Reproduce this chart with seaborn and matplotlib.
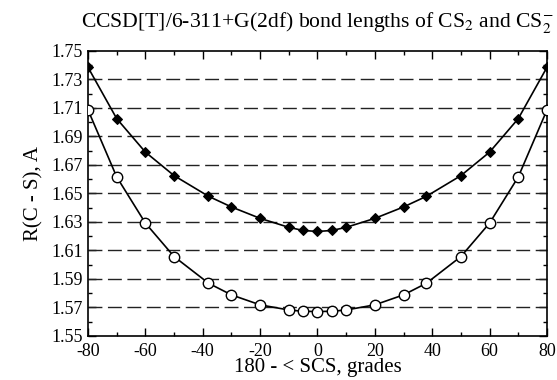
import matplotlib
matplotlib.use("Agg")
import matplotlib.pyplot as plt
import seaborn as sns
import numpy as np
import pandas as pd
from matplotlib.ticker import MultipleLocator

angles = [-80, -70, -60, -50, -38, -30, -20, -10, -5, 0, 5, 10, 20, 30, 38, 50, 60, 70, 80]
r_cs2 = [1.7385, 1.7025, 1.679, 1.6625, 1.648, 1.6405, 1.6325, 1.6262, 1.6240, 1.6233,
         1.6240, 1.6262, 1.6325, 1.6405, 1.648, 1.6625, 1.679, 1.7025, 1.7385]
r_cs2_anion = [1.7086, 1.6616, 1.6292, 1.6057, 1.587, 1.5788, 1.5718, 1.5682, 1.5673, 1.5671,
               1.5673, 1.5682, 1.5718, 1.5788, 1.587, 1.6057, 1.6292, 1.6616, 1.7086]
y_ticks = [1.55, 1.57, 1.59, 1.61, 1.63, 1.65, 1.67, 1.69, 1.71, 1.73, 1.75]
x_ticks = [-80, -60, -40, -20, 0, 20, 40, 60, 80]

sns.set_theme(style="ticks")
plt.rcParams['font.family'] = ['Liberation Serif', 'DejaVu Serif']
plt.rcParams['mathtext.fontset'] = 'stix'

df1 = pd.DataFrame({"x": angles, "y": r_cs2})
df2 = pd.DataFrame({"x": angles, "y": r_cs2_anion})

fig = plt.figure(figsize=(5.57, 3.8), dpi=100)
ax = fig.add_axes([0.158, 0.116, 0.824, 0.750])

for yv in y_ticks[1:-1]:
    ax.axhline(yv, color="#222222", lw=1.0, dashes=(10, 4), zorder=1)

sns.lineplot(data=df1, x="x", y="y", ax=ax, color="black", lw=1.2, marker="D",
             markersize=5.5, markerfacecolor="black", markeredgecolor="black", zorder=3)
sns.lineplot(data=df2, x="x", y="y", ax=ax, color="black", lw=1.2, marker="o",
             markersize=7.5, markerfacecolor="white", markeredgecolor="black",
             markeredgewidth=1.0, zorder=3)

ax.set_xlim(-80, 80)
ax.set_ylim(1.55, 1.75)
ax.set_xticks(x_ticks)
ax.set_xticklabels([str(v) for v in x_ticks])
ax.set_yticks(y_ticks)
ax.set_yticklabels([f"{v:.2f}" for v in y_ticks])
ax.xaxis.set_minor_locator(MultipleLocator(10))
ax.yaxis.set_minor_locator(MultipleLocator(0.01))
ax.tick_params(which="both", direction="in", top=True, right=True, colors="black",
               labelsize=13)
ax.tick_params(axis="x", which="major", pad=5)
ax.tick_params(which="major", length=6, width=1)
ax.tick_params(which="minor", length=3, width=1)
for s in ax.spines.values():
    s.set_color("black")
    s.set_linewidth(1.2)

ax.set_xlabel("180 - < SCS, grades", fontsize=15, color="black", labelpad=-1)
ax.set_ylabel("R(C - S), A", fontsize=15, color="black", labelpad=6)
ax.set_title("CCSD[T]/6-311+G(2df) bond lengths of CS$_2$ and CS$_2^{-}$",
             fontsize=15.6, color="black", pad=17)

fig.savefig("out.png", dpi=100)
